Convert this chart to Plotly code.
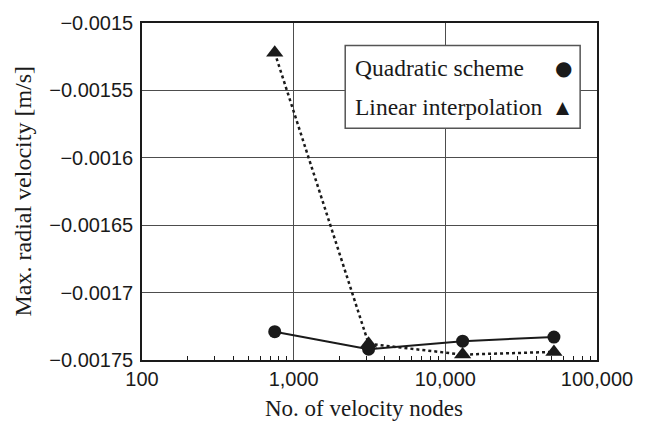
import plotly.graph_objects as go

# ---- data ----
nodes = [750, 3120, 13000, 52000]
quadratic = [-0.001729, -0.001742, -0.001736, -0.001733]
linear = [-0.001522, -0.001738, -0.001746, -0.001744]

x_tickvals = [100, 1000, 10000, 100000]
x_ticktext = ["100", "1,000", "10,000", "100,000"]
y_tickvals = [-0.0015, -0.00155, -0.0016, -0.00165, -0.0017, -0.00175]
y_ticktext = ["\u22120.0015", "\u22120.00155", "\u22120.0016", "\u22120.00165", "\u22120.0017", "\u22120.00175"]
minor_vals = [m * 10 ** e for e in (2, 3, 4) for m in range(2, 10)]

series_names = ["Quadratic scheme", "Linear interpolation"]

INK = "#1a1a1a"
GRID = "#4d4d4d"
SANS = "Liberation Sans, Arial, sans-serif"
SERIF = "Liberation Serif, Times New Roman, serif"

fig = go.Figure()
fig.add_trace(go.Scatter(
    x=nodes, y=quadratic, mode="lines+markers", name=series_names[0],
    line=dict(color=INK, width=2),
    marker=dict(symbol="circle", size=13, color=INK),
    showlegend=False,
))
fig.add_trace(go.Scatter(
    x=nodes, y=linear, mode="lines+markers", name=series_names[1],
    line=dict(color=INK, width=2.5, dash="dot"),
    marker=dict(symbol="triangle-up", size=15, color=INK),
    showlegend=False,
))

minor_style = dict(tickmode="array", tickvals=minor_vals, ticks="inside",
                   ticklen=4, tickcolor=INK, tickwidth=1, showgrid=False)

fig.update_layout(
    width=645, height=428,
    margin=dict(l=142, r=44, t=14, b=68),
    paper_bgcolor="white", plot_bgcolor="white",
    xaxis=dict(
        type="log", range=[2, 5],
        tickmode="array", tickvals=x_tickvals, ticktext=x_ticktext,
        tickfont=dict(family=SANS, size=20, color=INK),
        showgrid=True, gridcolor=GRID, gridwidth=1,
        showline=True, mirror=True, linecolor=INK, linewidth=1.5,
        ticks="inside", ticklen=0, tickcolor=INK,
        minor=minor_style,
        zeroline=False,
    ),
    xaxis2=dict(
        type="log", range=[2, 5], overlaying="x", side="top", anchor="y",
        tickmode="array", tickvals=x_tickvals, showticklabels=False,
        showgrid=False, showline=False, zeroline=False,
        ticks="inside", ticklen=0, minor=minor_style,
    ),
    yaxis=dict(
        range=[-0.00175, -0.0015],
        tickmode="array", tickvals=y_tickvals, ticktext=y_ticktext,
        tickfont=dict(family=SANS, size=20, color=INK),
        showgrid=True, gridcolor=GRID, gridwidth=1,
        showline=True, mirror=True, linecolor=INK, linewidth=1.5,
        ticks="", zeroline=False, ticklabelstandoff=3,
    ),
)

# axis titles
fig.add_annotation(text="No. of velocity nodes", xref="paper", yref="paper",
                   x=0.5, xshift=-6, y=0, yshift=-48, yanchor="middle", showarrow=False,
                   font=dict(family=SERIF, size=23, color=INK))
fig.add_annotation(text="Max. radial velocity [m/s]", xref="paper", yref="paper",
                   x=0, xshift=-120, y=0.5, textangle=-90, xanchor="center",
                   showarrow=False, font=dict(family=SERIF, size=24, color=INK))

# legend box (symbols on the right, as in the reference)
fig.add_shape(type="rect", xref="paper", yref="paper",
              x0=(347 - 142) / 459, x1=(584 - 142) / 459,
              y0=1 - (122 - 14) / 346, y1=1 - (37 - 14) / 346,
              line=dict(color="#555555", width=1.5), fillcolor="white", layer="above")
leg_y = [60, 100]
for name, yy, sym, sz in zip(series_names, leg_y, ["\u25cf", "\u25b2"], [20, 17]):
    fig.add_annotation(text=name, xref="paper", yref="paper",
                       x=(355 - 142) / 459, y=1 - (yy - 14) / 346,
                       xanchor="left", yanchor="middle", showarrow=False,
                       font=dict(family=SERIF, size=23.5, color=INK))
    fig.add_annotation(text=sym, xref="paper", yref="paper",
                       x=(567 - 142) / 459, y=1 - (yy - 14) / 346,
                       xanchor="center", yanchor="middle", showarrow=False,
                       font=dict(family="DejaVu Sans", size=sz, color=INK))

fig.write_html("out.html")
